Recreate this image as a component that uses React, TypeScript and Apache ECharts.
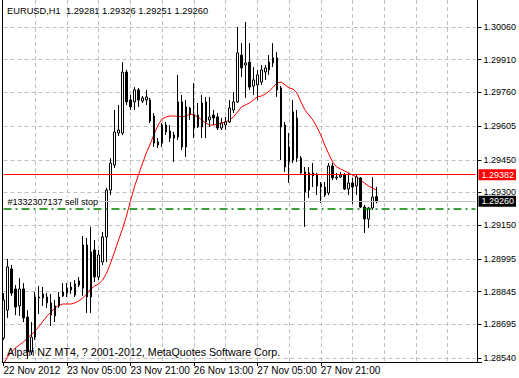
import React, { useEffect, useRef } from "react";
import * as echarts from "echarts";

const FONT = "Liberation Sans";
const symbolTitle = "EURUSD,H1  1.29281 1.29326 1.29251 1.29260";
const copyright = "Alpari NZ MT4, ? 2001-2012, MetaQuotes Software Corp.";

const opens = [
  1.28632, 1.2876, 1.28949, 1.28857, 1.28779, 1.28857, 1.28728, 1.28568, 1.28636, 1.2882,
  1.28816, 1.2882, 1.28793, 1.28779, 1.28779, 1.28825, 1.28838, 1.28852, 1.28829, 1.28875,
  1.28861, 1.29059, 1.2882, 1.29036, 1.28912, 1.28981, 1.29096, 1.29311, 1.29426, 1.29573,
  1.29573, 1.29853, 1.29725, 1.29716, 1.29771, 1.2972, 1.29725, 1.29725, 1.29651, 1.29532,
  1.29527, 1.29578, 1.29582, 1.29564, 1.29555, 1.29716, 1.29509, 1.29688, 1.29656, 1.29656,
  1.29601, 1.29716, 1.29633, 1.29656, 1.29647, 1.29596, 1.2961, 1.29624, 1.29679, 1.29716,
  1.29931, 1.29885, 1.29899, 1.29789, 1.29794, 1.29807, 1.29853, 1.29863, 1.29895, 1.29918,
  1.2978, 1.2961, 1.2944, 1.29449, 1.29642, 1.29458, 1.29394, 1.29311, 1.2939, 1.2938,
  1.29339, 1.29325, 1.29298, 1.29422, 1.29367, 1.29371, 1.2938, 1.29316, 1.29344, 1.2933,
  1.29367, 1.29233, 1.29178, 1.29229, 1.29281,
];
const highs = [
  1.28838, 1.28995, 1.28967, 1.28875, 1.28907, 1.28884, 1.2876, 1.28705, 1.28843, 1.28871,
  1.28866, 1.28838, 1.28834, 1.28806, 1.28843, 1.28884, 1.28884, 1.28889, 1.28898, 1.28912,
  1.291, 1.29091, 1.29142, 1.29082, 1.29036, 1.29119, 1.29321, 1.29458, 1.29679, 1.29702,
  1.29899, 1.29863, 1.29748, 1.29784, 1.2978, 1.29743, 1.29771, 1.29734, 1.29665, 1.2955,
  1.29619, 1.29624, 1.2961, 1.29578, 1.2984, 1.29748, 1.29725, 1.29693, 1.29803, 1.29711,
  1.29748, 1.29739, 1.29739, 1.29679, 1.29665, 1.29642, 1.29647, 1.29725, 1.29761, 1.3006,
  1.29986, 1.30083, 1.29986, 1.29876, 1.29863, 1.29885, 1.29885, 1.29931, 1.29986, 1.29945,
  1.29789, 1.29624, 1.29573, 1.29725, 1.29679, 1.29468, 1.29417, 1.29417, 1.29435, 1.2939,
  1.29348, 1.29348, 1.29435, 1.29435, 1.2939, 1.29394, 1.2939, 1.2939, 1.29367, 1.2938,
  1.29371, 1.29243, 1.29233, 1.29371, 1.29326,
];
const lows = [
  1.28623, 1.28724, 1.28825, 1.28737, 1.28733, 1.28705, 1.28535, 1.28554, 1.28623, 1.28742,
  1.28779, 1.2877, 1.28687, 1.28705, 1.2877, 1.2882, 1.2882, 1.28834, 1.2882, 1.28866,
  1.28825, 1.28747, 1.28747, 1.28889, 1.28898, 1.28967, 1.28981, 1.29288, 1.29412, 1.29559,
  1.29564, 1.29702, 1.29679, 1.29679, 1.29693, 1.29711, 1.29702, 1.29619, 1.29509, 1.29504,
  1.29509, 1.29564, 1.29532, 1.2944, 1.29541, 1.29495, 1.29463, 1.29633, 1.2955, 1.29596,
  1.2955, 1.2955, 1.29601, 1.2961, 1.29587, 1.29587, 1.29587, 1.29619, 1.29665, 1.29711,
  1.2983, 1.29734, 1.29771, 1.29748, 1.29725, 1.29794, 1.29817, 1.2984, 1.29876, 1.29739,
  1.29449, 1.29394, 1.29344, 1.29435, 1.2944, 1.2938, 1.29142, 1.29275, 1.29325, 1.29288,
  1.29252, 1.29279, 1.29288, 1.29357, 1.29357, 1.29367, 1.29311, 1.29288, 1.29247, 1.29288,
  1.29229, 1.29114, 1.29137, 1.2922, 1.29251,
];
const closes = [
  1.28806, 1.28958, 1.28838, 1.28774, 1.28857, 1.28724, 1.28568, 1.28636, 1.2882, 1.28816,
  1.28834, 1.28793, 1.28737, 1.28733, 1.2882, 1.28843, 1.28861, 1.28866, 1.2888, 1.28894,
  1.29059, 1.2882, 1.29027, 1.28912, 1.29013, 1.29096, 1.29311, 1.29435, 1.29578, 1.29587,
  1.29853, 1.29716, 1.29693, 1.29771, 1.29725, 1.29734, 1.29739, 1.29628, 1.29527, 1.29518,
  1.2961, 1.2961, 1.2955, 1.2955, 1.29716, 1.29509, 1.29693, 1.2966, 1.29596, 1.29601,
  1.29711, 1.29624, 1.29647, 1.29642, 1.29596, 1.29619, 1.29624, 1.29688, 1.29716, 1.29941,
  1.29872, 1.29895, 1.29784, 1.29817, 1.2984, 1.29863, 1.29872, 1.29899, 1.29918, 1.29771,
  1.29601, 1.29417, 1.29509, 1.2967, 1.29458, 1.2939, 1.29302, 1.2939, 1.29376, 1.2933,
  1.29325, 1.29288, 1.29422, 1.29367, 1.29371, 1.2938, 1.29316, 1.29344, 1.29325, 1.29371,
  1.29233, 1.29178, 1.29229, 1.29279, 1.2926,
];
const maValues = [
  1.28512, 1.28545, 1.28568, 1.28586, 1.286, 1.28613, 1.28632, 1.28646, 1.28664, 1.28687,
  1.2871, 1.28733, 1.28751, 1.2877, 1.28783, 1.28788, 1.28788, 1.28788, 1.28793, 1.28802,
  1.28816, 1.28834, 1.28857, 1.28871, 1.2888, 1.28898, 1.2893, 1.28976, 1.29027, 1.29082,
  1.29132, 1.29192, 1.29261, 1.29325, 1.2938, 1.29431, 1.29481, 1.29523, 1.29569, 1.2961,
  1.29638, 1.29647, 1.29651, 1.29651, 1.29651, 1.29647, 1.29651, 1.2966, 1.29656, 1.29647,
  1.29633, 1.29619, 1.2961, 1.2961, 1.29615, 1.29619, 1.29624, 1.29633, 1.29647, 1.2967,
  1.29693, 1.29702, 1.29711, 1.29725, 1.29739, 1.29743, 1.29752, 1.29766, 1.29784, 1.29803,
  1.29807, 1.29794, 1.2978, 1.29775, 1.29757, 1.29716, 1.29679, 1.29656, 1.29633, 1.29601,
  1.29564, 1.29518, 1.29477, 1.2944, 1.29417, 1.29408, 1.29399, 1.2939, 1.2938, 1.29371,
  1.29357, 1.29344, 1.2933, 1.29321, 1.29311,
];

const yTickValues = [
  1.2854, 1.28695, 1.28845, 1.28995, 1.2915, 1.293, 1.2945, 1.29605, 1.2976, 1.2991, 1.3006,
];
const xLabelIndex = [0, 16, 32, 48, 64, 80];
const xLabelText = [
  "22 Nov 2012",
  "23 Nov 05:00",
  "23 Nov 21:00",
  "26 Nov 13:00",
  "27 Nov 05:00",
  "27 Nov 21:00",
];
const slotCount = 120;
const firstBarTime = Date.UTC(2012, 10, 22, 13);

const stopLinePrice = 1.29382;
const bidPrice = 1.2926;
const sellStopPrice = 1.29227;
const sellStopText = "#1332307137 sell stop";

const yMin = 1.2852163;
const yMax = 1.3018394;

const MONTHS = ["Jan", "Feb", "Mar", "Apr", "May", "Jun", "Jul", "Aug", "Sep", "Oct", "Nov", "Dec"];
const pad = (n: number) => (n < 10 ? "0" + n : "" + n);

function buildSlots(): string[] {
  const out: string[] = [];
  let t = firstBarTime;
  while (out.length < slotCount) {
    const d = new Date(t);
    const wd = d.getUTCDay();
    if (wd !== 0 && wd !== 6) {
      out.push(`${pad(d.getUTCDate())} ${MONTHS[d.getUTCMonth()]} ${pad(d.getUTCHours())}:00`);
    }
    t += 3600000;
  }
  return out;
}

function buildOption() {
  const slots = buildSlots();
  const candles = opens.map((o, i) => [o, closes[i], lows[i], highs[i]]);
  const gridLine = { color: "#c0c0c0", type: [4, 3] as number[], width: 1 };
  const priceLabel = (bg: string) => ({
    show: true,
    position: "end",
    distance: 3,
    color: "#ffffff",
    backgroundColor: bg,
    padding: [1, 2, 0, 3],
    fontSize: 9,
    fontFamily: FONT,
    lineHeight: 10,
  });
  return {
    animation: false,
    backgroundColor: "#ffffff",
    textStyle: { fontFamily: FONT },
    grid: { left: 3.5, right: 39.5, top: 0, bottom: 16, containLabel: false },
    xAxis: {
      type: "category",
      data: slots,
      boundaryGap: false,
      axisLine: { show: false },
      axisTick: {
        show: true,
        interval: (i: number) => xLabelIndex.includes(i),
        length: 4,
        lineStyle: { color: "#000000" },
      },
      axisLabel: {
        interval: (i: number) => xLabelIndex.includes(i),
        formatter: (_v: string, i: number) => {
          const k = xLabelIndex.indexOf(i);
          return k >= 0 ? xLabelText[k] : "";
        },
        align: "left",
        margin: 3,
        fontSize: 10,
        color: "#000000",
        fontFamily: FONT,
      },
      splitLine: {
        show: true,
        interval: (i: number) => i > 0 && i % 8 === 0,
        lineStyle: gridLine,
      },
    },
    yAxis: {
      type: "value",
      position: "right",
      min: yMin,
      max: yMax,
      offset: 2,
      axisLine: { show: true, lineStyle: { color: "#000000" } },
      axisTick: { show: true, customValues: yTickValues, length: 4, lineStyle: { color: "#000000" } },
      axisLabel: {
        customValues: yTickValues,
        formatter: (v: number) => v.toFixed(5),
        margin: 6,
        fontSize: 9,
        color: "#000000",
        fontFamily: FONT,
      },
      splitLine: { show: true, lineStyle: gridLine },
    },
    graphic: [
      {
        type: "line",
        z: 100,
        shape: { x1: 2.5, y1: 0, x2: 2.5, y2: 362.5 },
        style: { stroke: "#000000", lineWidth: 1 },
      },
      {
        type: "line",
        z: 100,
        shape: { x1: 2, y1: 362.5, x2: 482, y2: 362.5 },
        style: { stroke: "#000000", lineWidth: 1 },
      },
      {
        type: "text",
        z: 100,
        x: 7,
        y: 11,
        style: { text: symbolTitle, fill: "#000000", font: `9.3px "${FONT}"`, verticalAlign: "middle" },
      },
      {
        type: "text",
        z: 100,
        x: 7,
        y: 352,
        style: { text: copyright, fill: "#000000", font: `10.7px "${FONT}"`, verticalAlign: "middle" },
      },
    ],
    series: [
      {
        type: "line",
        data: maValues,
        symbol: "none",
        clip: true,
        lineStyle: { color: "#ff0000", width: 1 },
        z: 2,
      },
      {
        type: "candlestick",
        data: candles,
        barWidth: 2,
        clip: true,
        z: 3,
        itemStyle: {
          color: "#ffffff",
          color0: "#000000",
          borderColor: "#000000",
          borderColor0: "#000000",
          borderWidth: 1,
        },
      },
      {
        type: "line",
        data: [],
        symbol: "none",
        z: 4,
        markLine: {
          silent: true,
          precision: 5,
          symbol: ["none", "none"],
          animation: false,
          data: [
            {
              yAxis: stopLinePrice,
              lineStyle: { color: "#ff0000", width: 1, type: "solid" },
              label: { ...priceLabel("#ff0000"), formatter: stopLinePrice.toFixed(5) },
            },
            {
              yAxis: bidPrice,
              lineStyle: { color: "#c0c0c0", width: 1, type: "solid" },
              label: { ...priceLabel("#000000"), formatter: bidPrice.toFixed(5) },
            },
            {
              yAxis: sellStopPrice,
              lineStyle: { color: "#008000", width: 1.5, type: [8, 4, 2, 4] },
              label: {
                show: true,
                position: "insideStartTop",
                distance: [0, 1],
                formatter: sellStopText,
                color: "#000000",
                backgroundColor: "#ffffff",
                padding: [0, 1, 0, 4],
                fontSize: 9,
                fontFamily: FONT,
                lineHeight: 10,
              },
            },
          ],
        },
      },
    ],
  };
}

export default function App() {
  const ref = useRef<HTMLDivElement>(null);
  useEffect(() => {
    if (!ref.current) return;
    const chart = echarts.init(ref.current, null, { renderer: "svg", width: 519, height: 378 });
    chart.setOption(buildOption() as any);
    return () => chart.dispose();
  }, []);
  return (
    <div
      ref={ref}
      style={{ position: "fixed", left: 0, top: 0, width: 519, height: 378, background: "#ffffff" }}
    />
  );
}
